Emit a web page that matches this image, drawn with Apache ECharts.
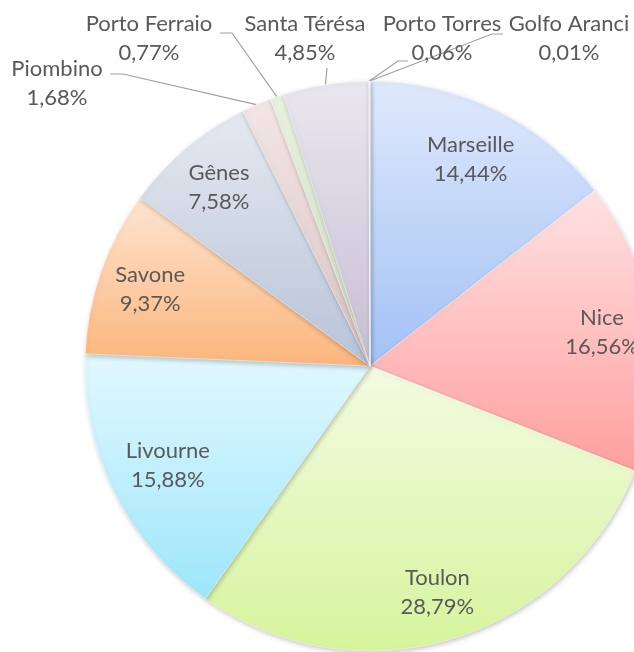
<!DOCTYPE html>
<html>
<head>
<meta charset="utf-8">
<style>
  html, body { margin: 0; padding: 0; background: #fff; }
  #chart { width: 634px; height: 652px; }
</style>
<script src="https://cdn.jsdelivr.net/npm/echarts@6/dist/echarts.min.js"></script>
</head>
<body>
<div id="chart"></div>
<script>
const ports = ['Marseille', 'Nice', 'Toulon', 'Livourne', 'Savone', 'Gênes',
  'Piombino', 'Porto Ferraio', 'Santa Térésa', 'Porto Torres', 'Golfo Aranci']
const shares = [14.44, 16.56, 28.79, 15.88, 9.37, 7.58, 1.68, 0.77, 4.85, 0.06, 0.01]

// gradient ends, light at the top of each slice
const topColors = ['#dfe9fc', '#ffe2e2', '#f3fbe2', '#e2f8fe', '#fee4d0', '#e6e9f0',
  '#f3e6e6', '#e9f1e1', '#e9e7ef', '#fde9d9', '#e0e0e0']
const bottomColors = ['#a3c1f5', '#ff9f9f', '#d6f49c', '#9de6fb', '#fbb57c', '#b7c3d8',
  '#d9c2c2', '#cfe0bf', '#c6bed3', '#f5c79f', '#c0c0c0']

// small slices get their label outside, with a bent leader line
const outside = {
  'Piombino':      { pos: [57, 83],  bend: [123, 74], end: [110, 74] },
  'Porto Ferraio': { pos: [149, 38], bend: [232, 33], end: [220, 33] },
  'Santa Térésa':  { pos: [305, 38], bend: [327, 68], end: [327, 68] },
  'Porto Torres':  { pos: [442, 38], bend: [398, 61], end: [408, 61] },
  'Golfo Aranci':  { pos: [569, 38], bend: [492, 34], end: [503, 34] }
}

const CENTER = [370, 366]
const R = 285
const INSIDE_REACH = 276 // inside label boxes are pushed out until a corner hits this
const textStyle = {
  color: '#595959',
  fontFamily: 'Lato',
  fontSize: 22,
  lineHeight: 29
}

function fmt(v) {
  return v.toFixed(2).replace('.', ',') + '%'
}

// mid angle of each slice, clockwise from 12 o'clock
const total = shares.reduce((a, b) => a + b, 0)
let acc = 0
const midAngles = shares.map(v => {
  const a = (acc + v / 2) / total * Math.PI * 2
  acc += v
  return a
})

const chart = echarts.init(document.getElementById('chart'), null, { renderer: 'canvas' })

const sliceData = ports.map((name, i) => ({
  name,
  value: shares[i],
  itemStyle: {
    color: new echarts.graphic.LinearGradient(0, 0, 0, 1, [
      { offset: 0, color: topColors[i] },
      { offset: 1, color: bottomColors[i] }
    ])
  },
  label: { show: !!outside[name] },
  labelLine: { show: !!outside[name] }
}))

const labelData = ports.map((name, i) => ({
  name,
  value: shares[i],
  label: { show: !outside[name] }
}))

chart.setOption({
  animation: false,
  series: [
    {
      type: 'pie',
      center: CENTER,
      radius: R,
      startAngle: 90,
      clockwise: true,
      avoidLabelOverlap: false,
      itemStyle: {
        borderColor: 'rgba(255,255,255,0.7)',
        borderWidth: 0.6,
        shadowBlur: 5,
        shadowColor: 'rgba(0,0,0,0.22)',
        shadowOffsetX: 1,
        shadowOffsetY: 2
      },
      label: Object.assign({
        position: 'outside',
        formatter: p => p.name + '\n' + fmt(p.value)
      }, textStyle),
      labelLine: {
        lineStyle: { color: '#a0a0a0', width: 1.2 }
      },
      labelLayout: p => {
        const cfg = outside[ports[p.dataIndex]]
        if (!cfg) return {}
        const start = p.labelLinePoints ? p.labelLinePoints[0] : cfg.bend
        return {
          x: cfg.pos[0],
          y: cfg.pos[1],
          align: 'center',
          verticalAlign: 'middle',
          labelLinePoints: [start, cfg.bend, cfg.end]
        }
      },
      emphasis: { disabled: true },
      data: sliceData
    },
    {
      // transparent copy only used to place the inside labels
      type: 'pie',
      center: CENTER,
      radius: [R * 0.64, R],
      startAngle: 90,
      clockwise: true,
      silent: true,
      itemStyle: { color: 'rgba(0,0,0,0)' },
      label: Object.assign({
        position: 'inside',
        formatter: p => p.name + '\n' + fmt(p.value)
      }, textStyle),
      labelLine: { show: false },
      labelLayout: p => {
        if (outside[ports[p.dataIndex]]) return {}
        const a = midAngles[p.dataIndex]
        const ux = Math.sin(a)
        const uy = -Math.cos(a)
        const w = p.labelRect.width
        const h = p.labelRect.height
        const b = Math.abs(ux) * w / 2 + Math.abs(uy) * h / 2
        const c = (w * w + h * h) / 4 - INSIDE_REACH * INSIDE_REACH
        const r = -b + Math.sqrt(b * b - c)
        return {
          x: CENTER[0] + r * ux,
          y: CENTER[1] + r * uy,
          align: 'center',
          verticalAlign: 'middle'
        }
      },
      emphasis: { disabled: true },
      data: labelData
    }
  ]
})
</script>
</body>
</html>
